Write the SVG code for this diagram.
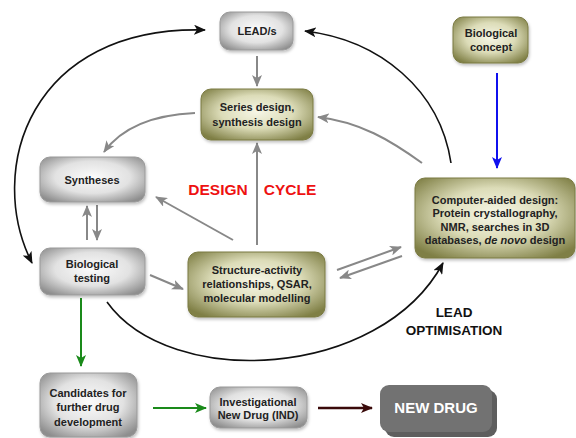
<svg xmlns="http://www.w3.org/2000/svg" width="576" height="438" viewBox="0 0 576 438">
<defs>
<radialGradient id="gGray" cx="50%" cy="45%" r="65%">
<stop offset="0" stop-color="#fbfbfb"/>
<stop offset="0.55" stop-color="#e2e2e2"/>
<stop offset="1" stop-color="#8e8e8e"/>
</radialGradient>
<radialGradient id="gOlive" cx="50%" cy="45%" r="65%">
<stop offset="0" stop-color="#f6f6e6"/>
<stop offset="0.5" stop-color="#dcdcb8"/>
<stop offset="1" stop-color="#7f7f45"/>
</radialGradient>
<filter id="sh" x="-10%" y="-10%" width="130%" height="140%">
<feDropShadow dx="1" dy="2" stdDeviation="1.5" flood-color="#000" flood-opacity="0.25"/>
</filter>
<marker id="aBlack" viewBox="0 0 12 10" refX="11" refY="5" markerWidth="12" markerHeight="10" markerUnits="userSpaceOnUse" orient="auto-start-reverse">
<path d="M0,0 L12,5 L0,10 L3,5 z" fill="#111"/>
</marker>
<marker id="aGray" viewBox="0 0 12 10" refX="11" refY="5" markerWidth="12" markerHeight="10" markerUnits="userSpaceOnUse" orient="auto">
<path d="M0,0 L12,5 L0,10 L3,5 z" fill="#888"/>
</marker>
<marker id="aGreen" viewBox="0 0 12 10" refX="11" refY="5" markerWidth="12" markerHeight="10" markerUnits="userSpaceOnUse" orient="auto">
<path d="M0,0 L12,5 L0,10 L3,5 z" fill="#1a8a1a"/>
</marker>
<marker id="aBlue" viewBox="0 0 12 10" refX="11" refY="5" markerWidth="12" markerHeight="10" markerUnits="userSpaceOnUse" orient="auto">
<path d="M0,0 L12,5 L0,10 L3,5 z" fill="#1010ee"/>
</marker>
<marker id="aRed" viewBox="0 0 12 10" refX="11" refY="5" markerWidth="12" markerHeight="10" markerUnits="userSpaceOnUse" orient="auto">
<path d="M0,0 L12,5 L0,10 L3,5 z" fill="#3a0a0a"/>
</marker>
</defs>
<style>
.gray{fill:url(#gGray);stroke:#9a9a9a;stroke-width:1;filter:url(#sh)}
.olive{fill:url(#gOlive);stroke:#7a7a42;stroke-width:1;filter:url(#sh)}
.t{font-family:"Liberation Sans",Arial,sans-serif;font-weight:bold;font-size:11px;fill:#222;text-anchor:middle}
.big{font-family:"Liberation Sans",Arial,sans-serif;font-weight:bold;text-anchor:middle}
.cg{fill:none;stroke:#888;stroke-width:2;marker-end:url(#aGray)}
.cb{fill:none;stroke:#111;stroke-width:1.6}
</style>
<rect width="576" height="438" fill="#ffffff"/>

<g id="connectors">
<path class="cb" d="M205,30 C30,25 -15,170 32,263" marker-start="url(#aBlack)" marker-end="url(#aBlack)"/>
<path class="cb" d="M451,163 C440,90 380,40 305,31" marker-end="url(#aBlack)"/>
<path class="cb" d="M107,302 C170,390 380,380 443,263" marker-end="url(#aBlack)"/>
<path class="cg" d="M257,56 L257,86"/>
<path class="cg" d="M195,113 C150,115 120,130 104,152"/>
<path class="cg" d="M422,163 C390,140 360,122 318,117"/>
<path class="cg" d="M257,245 L257,143"/>
<path class="cg" d="M233,240 L156,197"/>
<path class="cg" d="M87,240 L87,206"/>
<path class="cg" d="M97,205 L97,240"/>
<path class="cg" d="M150,275 L183,289"/>
<path class="cg" d="M337,270 L401,247"/>
<path class="cg" d="M402,256 L340,278"/>
<path d="M81,298 L81,366" fill="none" stroke="#1a8a1a" stroke-width="2" marker-end="url(#aGreen)"/>
<path d="M153,408 L206,408" fill="none" stroke="#1a8a1a" stroke-width="2" marker-end="url(#aGreen)"/>
<path d="M497,73 L497,168" fill="none" stroke="#1010ee" stroke-width="2" marker-end="url(#aBlue)"/>
<path d="M318,408 L372,408" fill="none" stroke="#3a0a0a" stroke-width="2.5" marker-end="url(#aRed)"/>
</g>

<g id="lead">
<rect class="gray" x="220" y="12" width="73" height="38" rx="10"/>
<text class="t" x="257" y="35">LEAD/s</text>
</g>
<g id="series">
<rect class="olive" x="201" y="89" width="112" height="51" rx="10"/>
<text class="t" x="257" y="111">Series design,</text>
<text class="t" x="257" y="126">synthesis design</text>
</g>
<g id="syntheses">
<rect class="gray" x="40" y="157" width="105" height="45" rx="10"/>
<text class="t" x="92" y="184">Syntheses</text>
</g>
<g id="biotesting">
<rect class="gray" x="40" y="248" width="105" height="47" rx="10"/>
<text class="t" x="92" y="268">Biological</text>
<text class="t" x="92" y="282">testing</text>
</g>
<g id="sar">
<rect class="olive" x="188" y="252" width="137" height="65" rx="10"/>
<text class="t" x="257" y="274">Structure-activity</text>
<text class="t" x="257" y="288">relationships, QSAR,</text>
<text class="t" x="257" y="302">molecular modelling</text>
</g>
<g id="cad">
<rect class="olive" x="415" y="178" width="160" height="80" rx="10"/>
<text class="t" x="495" y="204">Computer-aided design:</text>
<text class="t" x="495" y="217">Protein crystallography,</text>
<text class="t" x="495" y="231">NMR, searches in 3D</text>
<text class="t" x="495" y="244">databases, <tspan font-style="italic">de novo</tspan> design</text>
</g>
<g id="bioconcept">
<rect class="olive" x="453" y="17" width="75" height="46" rx="10"/>
<text class="t" x="491" y="37">Biological</text>
<text class="t" x="491" y="51">concept</text>
</g>
<g id="candidates">
<rect class="gray" x="40" y="373" width="97" height="64" rx="10"/>
<text class="t" x="88" y="397">Candidates for</text>
<text class="t" x="88" y="411">further drug</text>
<text class="t" x="88" y="426">development</text>
</g>
<g id="ind">
<rect class="gray" x="210" y="387" width="97" height="41" rx="10"/>
<text class="t" x="258" y="406">Investigational</text>
<text class="t" x="258" y="419">New Drug (IND)</text>
</g>
<g id="newdrug">
<rect x="385" y="390" width="112" height="47" rx="9" fill="#5e5e5e"/>
<rect x="380" y="385" width="112" height="47" rx="9" fill="#727272"/>
<text class="big" x="436" y="413" font-size="15" fill="#ffffff">NEW DRUG</text>
</g>

<g id="labels">
<text class="big" x="218" y="195" font-size="15.5" fill="#ee1111">DESIGN</text>
<text class="big" x="290" y="195" font-size="15.5" fill="#ee1111">CYCLE</text>
<text class="big" x="454" y="317" font-size="13.5" fill="#111">LEAD</text>
<text class="big" x="454" y="335" font-size="13.5" fill="#111">OPTIMISATION</text>
</g>
</svg>
